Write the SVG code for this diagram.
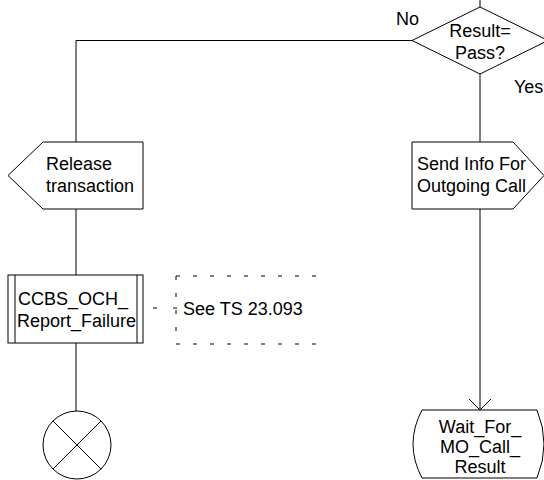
<svg xmlns="http://www.w3.org/2000/svg" width="544" height="480" viewBox="0 0 544 480">
<style>
.s{fill:#fff;stroke:#000;stroke-width:1}
.l{fill:none;stroke:#000;stroke-width:1}
.d{fill:none;stroke:#000;stroke-width:1;stroke-dasharray:4 13}
text{font-family:"Liberation Sans",Arial,sans-serif;font-size:18px;fill:#000}
.m{text-anchor:middle}
</style>
<rect width="544" height="480" fill="#fff"/>
<g id="connectors">
<line class="l" x1="480" y1="0" x2="480" y2="7"/>
<polyline class="l" points="412,40.5 76,40.5 76,142"/>
<line class="l" x1="480" y1="74" x2="480" y2="142"/>
<line class="l" x1="76" y1="209" x2="76" y2="275"/>
<line class="l" x1="76" y1="343" x2="76" y2="411"/>
<line class="l" x1="480" y1="209" x2="480" y2="410"/>
<polyline class="l" points="469,399 480,410 491,399"/>
<line class="l" x1="153" y1="308" x2="177" y2="308" style="stroke-dasharray:4 16"/>
<text x="396" y="25">No</text>
<text x="514" y="93">Yes</text>
</g>
<g id="decision">
<polygon class="s" points="480,7 548,40.5 480,74 412,40.5"/>
<text class="m" x="480" y="37">Result=</text>
<text class="m" x="480" y="59">Pass?</text>
</g>
<g id="release">
<path class="s" d="M43,142 H143 V209 H43 L8,175.5 Z"/>
<text x="46" y="170">Release</text>
<text x="46" y="192">transaction</text>
</g>
<g id="send">
<path class="s" d="M412,142 H513 L544,175.5 L513,209 H412 Z"/>
<text x="417" y="170">Send Info For</text>
<text x="417" y="192">Outgoing Call</text>
</g>
<g id="procedure">
<rect class="s" x="8" y="275" width="135" height="68"/>
<line class="l" x1="15" y1="275" x2="15" y2="343"/>
<line class="l" x1="137" y1="275" x2="137" y2="343"/>
<text x="18" y="305">CCBS_OCH_</text>
<text x="17" y="327">Report_Failure</text>
</g>
<g id="comment">
<line class="d" x1="176" y1="276" x2="320" y2="276"/>
<line class="d" x1="176" y1="344" x2="320" y2="344"/>
<line class="d" x1="176" y1="276" x2="176" y2="344"/>
<text x="183" y="315">See TS 23.093</text>
</g>
<g id="stop">
<circle class="s" cx="77" cy="445" r="34"/>
<line class="l" x1="53" y1="421" x2="101" y2="469"/>
<line class="l" x1="101" y1="421" x2="53" y2="469"/>
</g>
<g id="wait">
<path class="s" d="M422,410 H537 Q551,444 537,478 H422 Q404,444 422,410 Z"/>
<text class="m" x="480" y="433">Wait_For_</text>
<text class="m" x="480" y="453">MO_Call_</text>
<text class="m" x="480" y="473">Result</text>
</g>
</svg>
